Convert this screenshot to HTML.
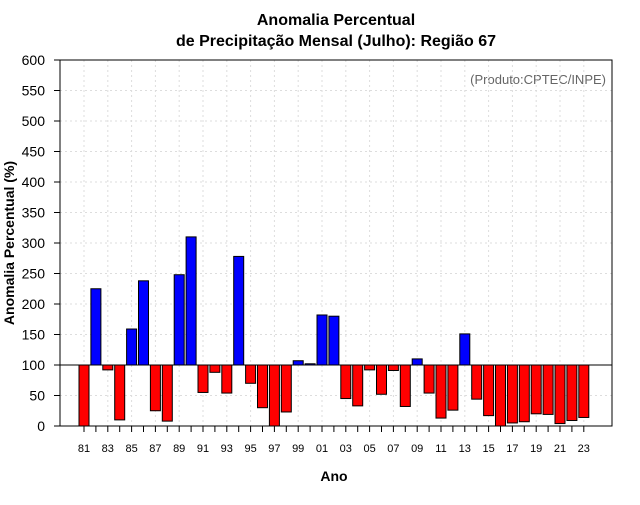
<!DOCTYPE html>
<html><head><meta charset="utf-8"><style>
body{margin:0;background:#fff;font-family:"Liberation Sans",sans-serif}
</style></head><body>
<svg width="640" height="500" xmlns="http://www.w3.org/2000/svg" font-family="Liberation Sans, sans-serif">
<text x="336" y="25" text-anchor="middle" font-size="16" font-weight="bold">Anomalia Percentual</text>
<text x="336" y="46" text-anchor="middle" font-size="16" font-weight="bold">de Precipitação Mensal (Julho): Região 67</text>
<text x="606" y="84" text-anchor="end" font-size="13" fill="#666">(Produto:CPTEC/INPE)</text>
<g id="grid"></g><g id="bars"></g><g id="axes"></g>
<rect x="60" y="60" width="552" height="366" fill="none" stroke="#000"/>
<text x="334" y="481" text-anchor="middle" font-size="14" font-weight="bold">Ano</text>
<text transform="translate(14,243) rotate(-90)" text-anchor="middle" font-size="14" font-weight="bold">Anomalia Percentual (%)</text>
</svg>
<script>
const years=[];for(let y=1981;y<=2023;y++)years.push(y);
const values=[0,225,92,10,159,238,25,8,248,310,55,88,54,278,70,30,0,23,107,102,182,180,45,33,92,52,91,32,110,54,13,26,151,44,17,0,5,7,20,19,4,9,14];
const yTicks=[0,50,100,150,200,250,300,350,400,450,500,550,600];
const baseline=100;
const NS="http://www.w3.org/2000/svg";
const yS=v=>426-v*0.61;
const xS=i=>84+i*11.9;
function mk(t,a,p){const e=document.createElementNS(NS,t);for(const k in a)e.setAttribute(k,a[k]);p.appendChild(e);return e;}
const g=document.getElementById('grid'),b=document.getElementById('bars'),ax=document.getElementById('axes');
yTicks.forEach(v=>{
 const l=mk('line',{x1:60,x2:612,y1:yS(v),y2:yS(v),stroke:'#ddd','stroke-dasharray':'2,3'},g);
 
 
 const t=mk('line',{x1:54,x2:60,y1:yS(v),y2:yS(v),stroke:'#000'},ax);
 
 
 const tx=mk('text',{x:45,y:yS(v)+5,'text-anchor':'end','font-size':14},ax);
 tx.textContent=v;
 
 
});
years.forEach((yr,i)=>{
 if(i%2==0){
  const l=mk('line',{x1:xS(i),x2:xS(i),y1:60,y2:426,stroke:'#ddd','stroke-dasharray':'2,3'},g);
  
  
  const tx=mk('text',{x:xS(i),y:452,'text-anchor':'middle','font-size':11},ax);
  tx.textContent=String(yr%100).padStart(2,'0');
  
  
 }
 const t=mk('line',{x1:xS(i),x2:xS(i),y1:426,y2:432,stroke:'#000'},ax);
 
 
 const v=values[i];
 const y1=Math.min(yS(v),yS(baseline)),y2=Math.max(yS(v),yS(baseline));
 const r=mk('rect',{x:xS(i)-5,y:y1,width:10,height:Math.max(y2-y1,0.5),fill:v>=baseline?'#0000ff':'#ff0000',stroke:'#000','stroke-width':1},b);
 
 
});
const bl=mk('line',{x1:60,x2:612,y1:yS(baseline),y2:yS(baseline),stroke:'#000'},b);


</script>
</body></html>
